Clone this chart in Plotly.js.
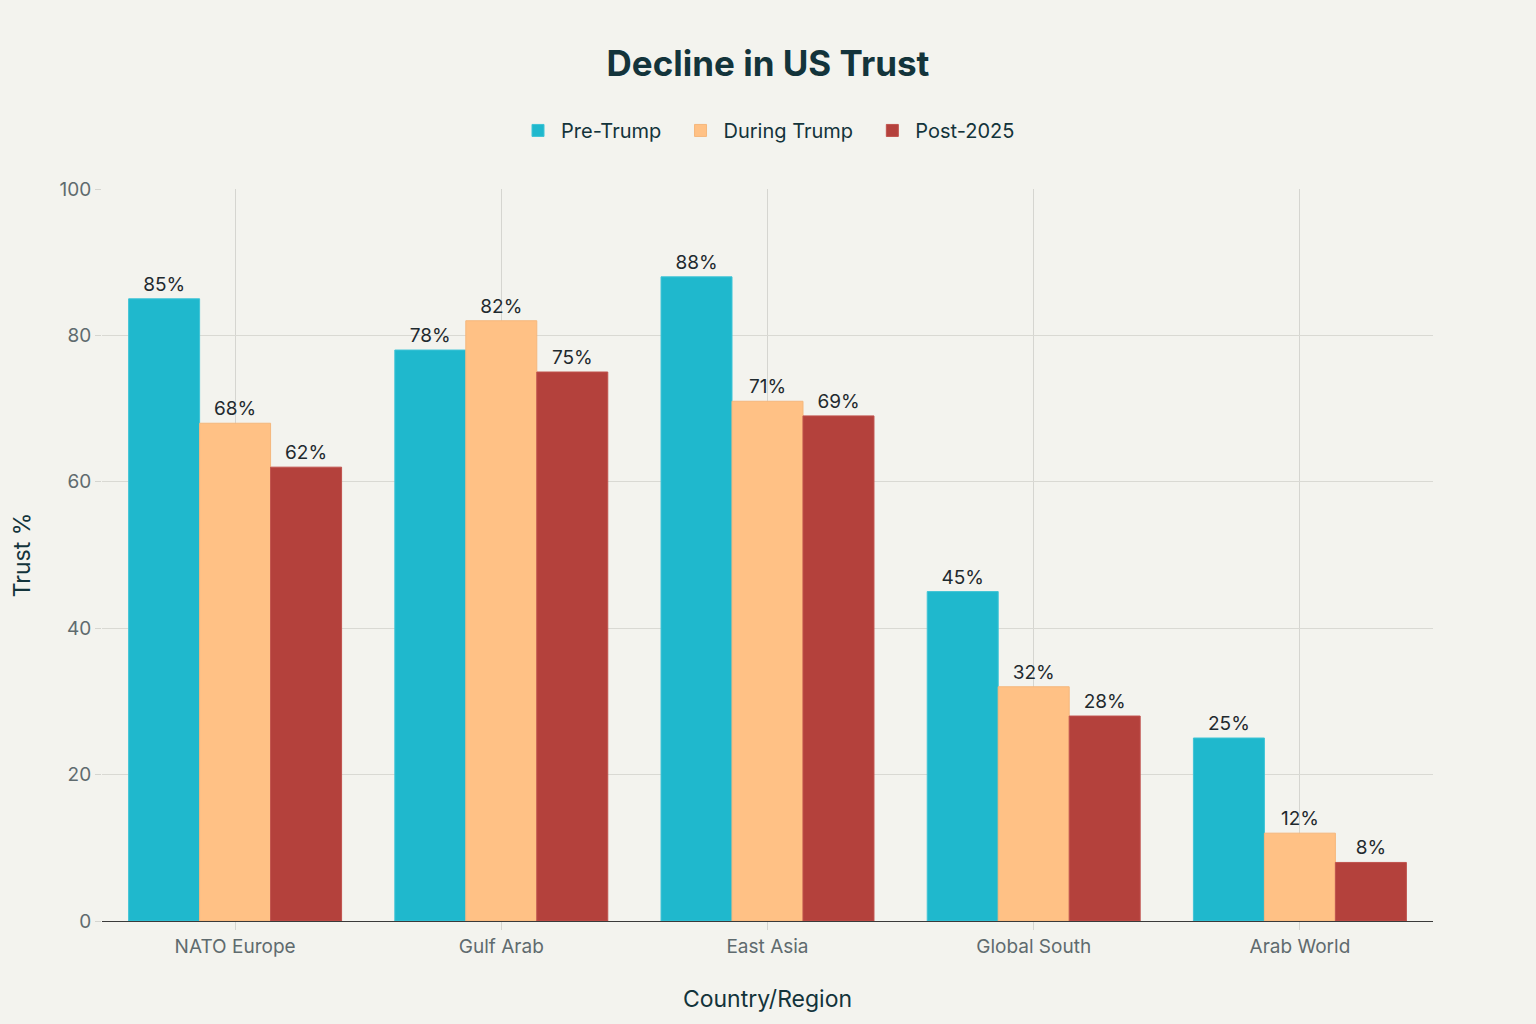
<!DOCTYPE html>
<html>
<head>
<meta charset="utf-8">
<script src="https://cdn.plot.ly/plotly-3.0.1.min.js"></script>
<style>
  html, body { margin: 0; padding: 0; background: #F3F3EE; }
  #chart { width: 1536px; height: 1024px; }
</style>
</head>
<body>
<div id="chart"></div>
<script>
// Trust in the US by region, three periods
const regions = ['NATO Europe', 'Gulf Arab', 'East Asia', 'Global South', 'Arab World'];
const preTrump = [85, 78, 88, 45, 25];
const duringTrump = [68, 82, 71, 32, 12];
const post2025 = [62, 75, 69, 28, 8];

const seriesNames = ['Pre-Trump', 'During Trump', 'Post-2025'];
const seriesColors = ['#1FB8CD', '#FFC185', '#B4413C'];
const seriesLines = ['#3FC4D6', '#F5B77C', '#C0524D'];

const FONT = 'Inter, "Open Sans", sans-serif';

const traces = [preTrump, duringTrump, post2025].map(function (vals, i) {
  return {
    type: 'bar',
    // trailing nbsp widens the gap between legend entries
    name: seriesNames[i] + (i < 2 ? '\u00a0\u00a0' : ''),
    x: regions,
    y: vals,
    text: vals.map(v => v + '%'),
    textposition: 'outside',
    cliponaxis: false,
    textfont: { family: FONT, size: 19, color: '#1f2a2e' },
    marker: { color: seriesColors[i], line: { color: seriesLines[i], width: 1 } },
    hoverinfo: 'x+y+name'
  };
});

const layout = {
  width: 1536,
  height: 1024,
  paper_bgcolor: '#F3F3EE',
  plot_bgcolor: '#F3F3EE',
  font: { family: FONT, color: '#13343B' },
  margin: { l: 102, r: 103, t: 189, b: 103, pad: 0 },
  barmode: 'group',
  bargap: 0.2,
  bargroupgap: 0,
  title: {
    text: '<b>Decline in US Trust</b>',
    x: 0.5,
    xanchor: 'center',
    y: 0.938,
    yanchor: 'middle',
    font: { family: FONT, size: 35, color: '#13343B' }
  },
  legend: {
    orientation: 'h',
    x: 0.5,
    xanchor: 'center',
    y: 1.08,
    yanchor: 'middle',
    font: { family: FONT, size: 20, color: '#13343B' },
    itemwidth: 36,
    bgcolor: 'rgba(0,0,0,0)'
  },
  xaxis: {
    title: { text: 'Country/Region', font: { family: FONT, size: 23, color: '#13343B' }, standoff: 33 },
    tickfont: { family: FONT, size: 19, color: '#5f6b6e' },
    showline: true,
    linecolor: '#3a3a3a',
    linewidth: 1.3,
    showgrid: true,
    gridcolor: '#D5D5D0',
    gridwidth: 1,
    ticks: 'outside',
    ticklen: 8,
    tickcolor: '#D5D5D0'
  },
  yaxis: {
    title: { text: 'Trust %', font: { family: FONT, size: 23, color: '#13343B' }, standoff: 22 },
    tickfont: { family: FONT, size: 19, color: '#5f6b6e' },
    range: [0, 100],
    dtick: 20,
    showline: false,
    showgrid: true,
    gridcolor: '#D9D9D3',
    gridwidth: 1,
    zeroline: false,
    ticks: 'outside',
    ticklen: 6,
    tickcolor: '#D5D5D0'
  }
};

Plotly.newPlot('chart', traces, layout, { displayModeBar: false, responsive: false });
</script>
</body>
</html>
